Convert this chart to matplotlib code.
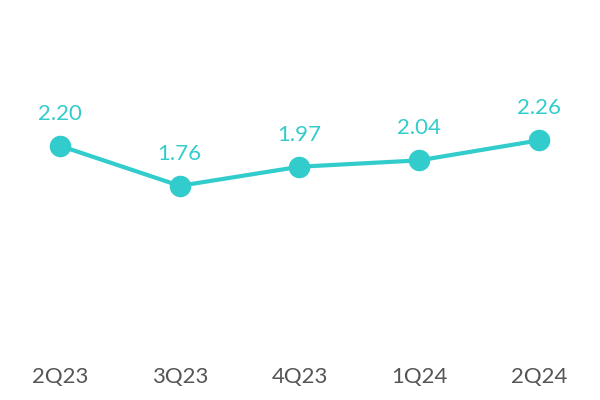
import matplotlib.pyplot as plt

quarters = ["2Q23", "3Q23", "4Q23", "1Q24", "2Q24"]
values = [2.20, 1.76, 1.97, 2.04, 2.26]

teal = "#33CCCC"
plt.rcParams['font.family'] = ['Lato', 'DejaVu Sans']

fig = plt.figure(figsize=(6, 4), dpi=100)
# axes bottom at y=0 data -> pixel 346 from top
ax = fig.add_axes([0, 54 / 400, 1, 346 / 400])
x = list(range(len(quarters)))
ax.plot(x, values, color=teal, lw=3, marker='o', ms=14.5, solid_capstyle='round')
for xi, v in zip(x, values):
    ax.annotate(f"{v:.2f}", (xi, v), xytext=(0, 16), textcoords='offset points',
                ha='center', va='bottom', fontsize=16, color=teal)

ax.set_xlim(-60 / 119.75, 540 / 119.75)
ax.set_ylim(0, 346 / 91)
ax.set_xticks(x)
ax.set_xticklabels(quarters, fontsize=16, color='#555555')
ax.tick_params(axis='x', length=0, pad=15)
ax.set_yticks([])
for s in ax.spines.values():
    s.set_visible(False)

fig.savefig("out.png", dpi=100)
